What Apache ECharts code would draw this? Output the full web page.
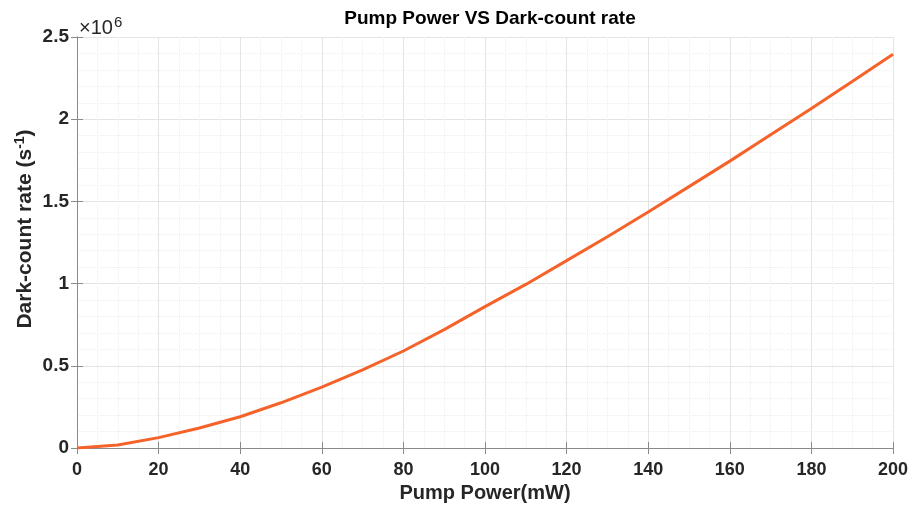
<!DOCTYPE html>
<html>
<head>
<meta charset="utf-8">
<script src="https://cdn.jsdelivr.net/npm/echarts@6/dist/echarts.min.js"></script>
<style>
html,body{margin:0;padding:0;background:#fff;}
#main{width:918px;height:513px;}
</style>
</head>
<body>
<div id="main"></div>
<script>
var pumpPower = [0,10,20,30,40,50,60,70,80,90,100,110,120,130,140,150,160,170,180,190,200];
var darkCount = [0,0.018e6,0.063e6,0.122e6,0.19e6,0.275e6,0.37e6,0.475e6,0.59e6,0.72e6,0.86e6,0.995e6,1.14e6,1.285e6,1.435e6,1.59e6,1.745e6,1.905e6,2.065e6,2.23e6,2.395e6];
var xTicks = [0,20,40,60,80,100,120,140,160,180,200];
var yTicks = [0,0.5,1,1.5,2,2.5];

var chart = echarts.init(document.getElementById('main'));
var font = '"Liberation Sans", Arial, Helvetica, sans-serif';
var axisColor = '#8a8a8a';
var textColor = '#262626';
var pts = pumpPower.map(function(x,i){return [x, darkCount[i]];});

chart.setOption({
  animation:false,
  backgroundColor:'#fff',
  title:{
    text:'Pump Power VS Dark-count rate',
    left:485, textAlign:'center', top:4,
    textStyle:{fontFamily:font,fontWeight:'bold',fontSize:19,color:'#000'}
  },
  graphic:[{
    type:'text', left:79, top:15,
    style:{
      text:'×10{s|6}',
      rich:{s:{fontSize:15,verticalAlign:'top',fontFamily:font,fill:textColor,padding:[0,0,12,1]}},
      fontSize:20, fontFamily:font, fill:textColor
    }
  }],
  grid:{left:77,right:25,top:37,bottom:65,containLabel:false},
  xAxis:[{
    type:'value', min:0, max:200, interval:20,
    name:'Pump Power(mW)', nameLocation:'middle', nameGap:33,
    nameTextStyle:{fontFamily:font,fontWeight:'bold',fontSize:20,color:textColor},
    axisLine:{show:true,lineStyle:{color:axisColor,width:1}},
    axisTick:{show:true,inside:true,length:6,lineStyle:{color:axisColor}},
    axisLabel:{fontFamily:font,fontWeight:'bold',fontSize:18,color:textColor,margin:13,
      formatter:function(v){return xTicks.indexOf(v)>=0?String(v):'';}},
    splitLine:{show:true,lineStyle:{color:'#e4e4e4',width:1}},
    minorTick:{show:false,splitNumber:4},
    minorSplitLine:{show:true,lineStyle:{color:'#efefef',width:1,type:'dotted'}}
  },{
    type:'value', min:0, max:200, interval:20, position:'top',
    axisLine:{show:true,lineStyle:{color:axisColor,width:1}},
    axisTick:{show:true,inside:true,length:6,lineStyle:{color:axisColor}},
    axisLabel:{show:false}, splitLine:{show:false}
  }],
  yAxis:[{
    type:'value', min:0, max:2.5e6, interval:0.5e6,
    name:'Dark-count rate (s{sup|-1})', nameLocation:'middle', nameGap:40, nameMoveOverlap:false,
    nameTextStyle:{fontFamily:font,fontWeight:'bold',fontSize:21,color:textColor,padding:[0,0,0,27],
      rich:{sup:{fontFamily:font,fontWeight:'bold',fontSize:14,color:textColor,verticalAlign:'top',padding:[0,0,10,0]}}},
    axisLine:{show:true,lineStyle:{color:axisColor,width:1}},
    axisTick:{show:true,inside:true,length:6,lineStyle:{color:axisColor}},
    axisLabel:{fontFamily:font,fontWeight:'bold',fontSize:19,color:textColor,margin:8,
      formatter:function(v){var t=Math.round(v/1e5)/10; return yTicks.indexOf(t)>=0?String(t):'';}},
    splitLine:{show:true,lineStyle:{color:'#e4e4e4',width:1}},
    minorTick:{show:false,splitNumber:5},
    minorSplitLine:{show:true,lineStyle:{color:'#efefef',width:1,type:'dotted'}}
  },{
    type:'value', min:0, max:2.5e6, interval:0.5e6, position:'right',
    axisLine:{show:true,lineStyle:{color:axisColor,width:1}},
    axisTick:{show:true,inside:true,length:6,lineStyle:{color:axisColor}},
    axisLabel:{show:false}, splitLine:{show:false}
  }],
  series:[{
    type:'line', xAxisIndex:0, yAxisIndex:0,
    data:pts, showSymbol:false, smooth:false,
    lineStyle:{color:'#f5622a',width:3},
    itemStyle:{color:'#f5622a'}
  }]
});
</script>
</body>
</html>
